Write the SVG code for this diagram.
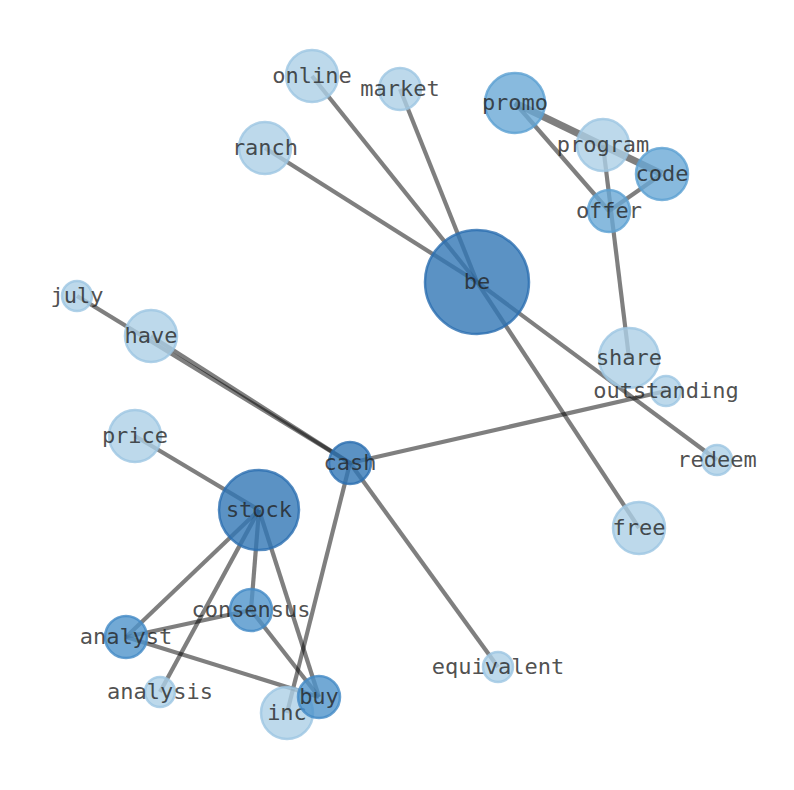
<svg xmlns="http://www.w3.org/2000/svg" width="794" height="790" viewBox="0 0 794 790">
<style>
.e{stroke:#000;stroke-opacity:0.5;stroke-width:4.2;fill:none}
.n circle{stroke-width:2.5;fill-opacity:0.8;stroke-opacity:0.8}
.d circle{fill:#3277b5;stroke:#2a6eb0}
.m circle{fill:#4f93cb;stroke:#4289c6}
.p circle{fill:#6aa9d6;stroke:#5ba0d2}
.l circle{fill:#acd0e6;stroke:#9cc6e2}
.n text{font-family:"DejaVu Sans Mono",monospace;font-size:22px;fill:#222;fill-opacity:0.8;text-anchor:middle;dominant-baseline:central}
</style>
<rect width="794" height="790" fill="#fff"/>
<g id="edges">
<line class="e" x1="477" y1="282" x2="312" y2="76"/>
<line class="e" x1="477" y1="282" x2="400" y2="89"/>
<line class="e" x1="477" y1="282" x2="265" y2="148"/>
<line class="e" x1="477" y1="282" x2="639" y2="528"/>
<line class="e" x1="477" y1="282" x2="717" y2="460"/>
<line class="e" x1="515" y1="103" x2="662" y2="174" style="stroke-width:7"/>
<line class="e" x1="515" y1="103" x2="609" y2="211"/>
<line class="e" x1="662" y1="174" x2="609" y2="211"/>
<line class="e" x1="603" y1="145" x2="629" y2="358"/>
<line class="e" x1="350" y1="463" x2="77" y2="296"/>
<line class="e" x1="350" y1="463" x2="151" y2="336"/>
<line class="e" x1="350" y1="463" x2="666" y2="391"/>
<line class="e" x1="350" y1="463" x2="498" y2="667"/>
<line class="e" x1="350" y1="463" x2="287" y2="713"/>
<line class="e" x1="259" y1="510" x2="135" y2="436"/>
<line class="e" x1="259" y1="510" x2="126" y2="637"/>
<line class="e" x1="259" y1="510" x2="160" y2="692"/>
<line class="e" x1="259" y1="510" x2="251" y2="610"/>
<line class="e" x1="259" y1="510" x2="319" y2="697"/>
<line class="e" x1="251" y1="610" x2="126" y2="637"/>
<line class="e" x1="251" y1="610" x2="319" y2="697"/>
<line class="e" x1="126" y1="637" x2="319" y2="697"/>
</g>
<g id="node-be" class="n d"><circle cx="477" cy="282" r="52"/><text x="477" y="281">be</text></g>
<g id="node-online" class="n l"><circle cx="312" cy="76" r="26"/><text x="312" y="75">online</text></g>
<g id="node-market" class="n l"><circle cx="400" cy="89" r="21"/><text x="400" y="88">market</text></g>
<g id="node-ranch" class="n l"><circle cx="265" cy="148" r="26"/><text x="265" y="147">ranch</text></g>
<g id="node-promo" class="n p"><circle cx="515" cy="103" r="30"/><text x="515" y="102">promo</text></g>
<g id="node-program" class="n l"><circle cx="603" cy="145" r="26"/><text x="603" y="144">program</text></g>
<g id="node-code" class="n p"><circle cx="662" cy="174" r="26"/><text x="662" y="173">code</text></g>
<g id="node-offer" class="n p"><circle cx="609" cy="211" r="21"/><text x="609" y="210">offer</text></g>
<g id="node-july" class="n l"><circle cx="77" cy="296" r="15"/><text x="77" y="295">july</text></g>
<g id="node-have" class="n l"><circle cx="151" cy="336" r="26"/><text x="151" y="335">have</text></g>
<g id="node-share" class="n l"><circle cx="629" cy="358" r="30"/><text x="629" y="357">share</text></g>
<g id="node-outstanding" class="n l"><circle cx="666" cy="391" r="15"/><text x="666" y="390">outstanding</text></g>
<g id="node-redeem" class="n l"><circle cx="717" cy="460" r="15"/><text x="717" y="459">redeem</text></g>
<g id="node-free" class="n l"><circle cx="639" cy="528" r="26"/><text x="639" y="527">free</text></g>
<g id="node-price" class="n l"><circle cx="135" cy="436" r="26"/><text x="135" y="435">price</text></g>
<g id="node-cash" class="n d"><circle cx="350" cy="463" r="21"/><text x="350" y="462">cash</text></g>
<g id="node-stock" class="n d"><circle cx="259" cy="510" r="40"/><text x="259" y="509">stock</text></g>
<g id="node-consensus" class="n m"><circle cx="251" cy="610" r="21"/><text x="251" y="609">consensus</text></g>
<g id="node-analyst" class="n m"><circle cx="126" cy="637" r="21"/><text x="126" y="636">analyst</text></g>
<g id="node-analysis" class="n l"><circle cx="160" cy="692" r="15"/><text x="160" y="691">analysis</text></g>
<g id="node-equivalent" class="n l"><circle cx="498" cy="667" r="15"/><text x="498" y="666">equivalent</text></g>
<g id="node-inc" class="n l"><circle cx="287" cy="713" r="26"/><text x="287" y="712">inc</text></g>
<g id="node-buy" class="n m"><circle cx="319" cy="697" r="21"/><text x="319" y="696">buy</text></g>
</svg>
